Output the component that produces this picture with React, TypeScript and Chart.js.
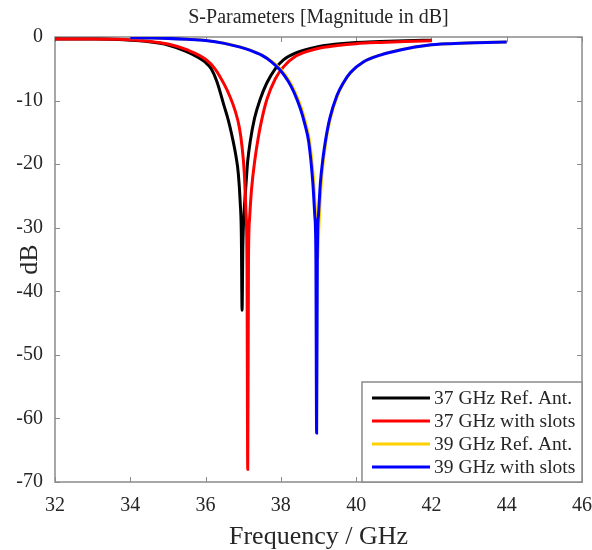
import React, { useEffect, useRef } from "react";
import { Chart, registerables } from "chart.js";

Chart.register(...registerables);

const FONT = "'Liberation Serif', 'DejaVu Serif', serif";

const chartTitle = "S-Parameters [Magnitude in dB]";
const xAxisTitle = "Frequency / GHz";
const yAxisTitle = "dB";
const seriesLabels = [
  "37 GHz Ref. Ant.",
  "37 GHz with slots",
  "39 GHz Ref. Ant.",
  "39 GHz with slots",
];
const seriesColors = ["#000000", "#ff0000", "#ffd000", "#0000ff"];

// 37 GHz reference antenna
const freq37Ref = [
  32.0, 33.0, 33.7, 34.5, 35.0, 35.5, 36.0, 36.15, 36.3, 36.5, 36.6, 36.7, 36.8,
  36.87, 36.92, 36.95, 36.97, 36.99, 37.02, 37.07, 37.12, 37.19, 37.3, 37.45,
  37.63, 37.85, 38.07, 38.4, 38.96, 39.5, 40.0, 40.64, 41.3, 42.0,
];
const db37Ref = [
  -0.3, -0.32, -0.4, -0.75, -1.25, -2.3, -4.0, -5.0, -7.0, -11.0, -13.0, -15.5,
  -18.5, -21.5, -26.0, -31.0, -43.0, -33.0, -28.0, -23.5, -19.5, -16.3, -12.8,
  -9.8, -7.2, -5.0, -3.6, -2.5, -1.55, -1.1, -0.85, -0.7, -0.58, -0.5,
];

// 37 GHz with slots
const freq37Slots = [
  32.0, 33.0, 33.7, 34.5, 35.0, 35.5, 36.0, 36.25, 36.5, 36.65, 36.78, 36.9,
  36.97, 37.03, 37.07, 37.1, 37.12, 37.14, 37.17, 37.22, 37.31, 37.4, 37.5,
  37.63, 37.85, 38.07, 38.4, 38.96, 39.5, 40.0, 40.64, 41.3, 42.0,
];
const db37Slots = [
  -0.3, -0.3, -0.36, -0.68, -1.1, -2.0, -3.5, -5.0, -7.5, -9.4, -11.5, -14.3,
  -17.3, -21.5, -27.2, -35.0, -68.0, -35.0, -28.5, -24.0, -19.3, -15.8, -12.8,
  -9.8, -6.6, -4.7, -3.0, -1.85, -1.35, -1.05, -0.85, -0.7, -0.6,
];

// 39 GHz reference antenna
const freq39Ref = [
  34.0, 34.5, 35.0, 35.5, 36.0, 36.5, 36.92, 37.19, 37.5, 37.75, 38.0, 38.22,
  38.37, 38.54, 38.66, 38.76, 38.87, 38.92, 38.95, 38.975, 39.0, 39.03, 39.08,
  39.2, 39.32, 39.51, 39.67, 39.87, 40.22, 40.66, 41.22, 41.92, 42.5, 43.2, 44.0,
];
const db39Ref = [
  -0.1, -0.15, -0.22, -0.34, -0.53, -0.97, -1.55, -2.05, -2.85, -3.8, -5.1,
  -6.9, -8.6, -11.1, -13.6, -16.3, -22.5, -27.5, -31.5, -35.0, -31.5, -27.5,
  -22.5, -16.3, -12.7, -9.1, -7.2, -5.5, -3.85, -2.8, -1.95, -1.28, -1.03,
  -0.88, -0.78,
];

// 39 GHz with slots
const freq39Slots = [
  34.0, 34.5, 35.0, 35.5, 36.0, 36.5, 36.92, 37.19, 37.5, 37.75, 37.98, 38.2,
  38.35, 38.52, 38.64, 38.74, 38.85, 38.9, 38.93, 38.95, 38.97, 39.0, 39.05,
  39.12, 39.18, 39.3, 39.49, 39.65, 39.85, 40.2, 40.64, 41.2, 41.9, 42.5, 43.2,
  44.0,
];
const db39Slots = [
  -0.1, -0.15, -0.22, -0.35, -0.55, -1.0, -1.6, -2.1, -2.9, -3.9, -5.2, -7.0,
  -8.7, -11.3, -13.8, -16.5, -23.0, -28.0, -34.0, -62.3, -34.0, -28.0, -23.0,
  -19.0, -16.5, -12.8, -9.2, -7.3, -5.6, -3.9, -2.85, -2.0, -1.3, -1.05, -0.9,
  -0.8,
];

const xMin = 32;
const xMax = 46;
const xStep = 2;
const yMin = -70;
const yMax = 0;
const yStep = 10;

const seriesFreqs = [freq37Ref, freq37Slots, freq39Ref, freq39Slots];
const seriesValues = [db37Ref, db37Slots, db39Ref, db39Slots];
const drawOrder = [3, 2, 1, 0];

const FRAME_COLOR = "#8a8a8a";
const TEXT_COLOR = "#262626";

const framePlugin = {
  id: "frameTicks",
  beforeDatasetsDraw(chart: any) {
    const { ctx, chartArea, scales } = chart;
    const { left, right, top, bottom } = chartArea;
    const tl = 5;
    ctx.save();
    ctx.strokeStyle = FRAME_COLOR;
    ctx.lineWidth = 1.5;
    ctx.strokeRect(left, top, right - left, bottom - top);
    ctx.lineWidth = 1;
    ctx.beginPath();
    scales.x.ticks.forEach((t: any) => {
      const px = Math.round(scales.x.getPixelForValue(t.value)) + 0.5;
      ctx.moveTo(px, bottom);
      ctx.lineTo(px, bottom - tl);
      ctx.moveTo(px, top);
      ctx.lineTo(px, top + tl);
    });
    scales.y.ticks.forEach((t: any) => {
      const py = Math.round(scales.y.getPixelForValue(t.value)) + 0.5;
      ctx.moveTo(left, py);
      ctx.lineTo(left + tl, py);
      ctx.moveTo(right, py);
      ctx.lineTo(right - tl, py);
    });
    ctx.stroke();
    ctx.restore();
  },
};

const legendPlugin = {
  id: "boxLegend",
  afterDraw(chart: any) {
    const { ctx, chartArea } = chart;
    const w = 220;
    const h = 100;
    const x0 = chartArea.right - w;
    const y0 = chartArea.bottom - h;
    ctx.save();
    ctx.fillStyle = "#ffffff";
    ctx.fillRect(x0, y0, w, h);
    ctx.strokeStyle = FRAME_COLOR;
    ctx.lineWidth = 1.5;
    ctx.strokeRect(x0, y0, w, h);
    ctx.font = `19.5px ${FONT}`;
    ctx.textBaseline = "middle";
    ctx.textAlign = "left";
    chart.data.datasets.forEach((ds: any, i: number) => {
      const yy = y0 + 16 + i * 23;
      ctx.strokeStyle = ds.borderColor;
      ctx.lineWidth = 3;
      ctx.beginPath();
      ctx.moveTo(x0 + 10, yy);
      ctx.lineTo(x0 + 68, yy);
      ctx.stroke();
      ctx.fillStyle = TEXT_COLOR;
      ctx.fillText(ds.label, x0 + 72, yy + 1);
    });
    ctx.restore();
  },
};

export default function App() {
  const canvasRef = useRef<HTMLCanvasElement | null>(null);

  useEffect(() => {
    if (!canvasRef.current) return;
    const datasets = seriesLabels.map((label, i) => ({
      label,
      data: seriesFreqs[i].map((f, j) => ({ x: f, y: seriesValues[i][j] })),
      borderColor: seriesColors[i],
      backgroundColor: seriesColors[i],
      borderWidth: 3,
      pointRadius: 0,
      cubicInterpolationMode: "monotone" as const,
      fill: false,
      order: drawOrder[i],
    }));

    const chart = new Chart(canvasRef.current, {
      type: "line",
      data: { datasets },
      options: {
        animation: false,
        responsive: false,
        devicePixelRatio: 1,
        layout: { padding: { left: 0, right: 0, top: 0, bottom: 0 } },
        plugins: {
          legend: { display: false },
          tooltip: { enabled: false },
          title: {
            display: true,
            text: chartTitle,
            fullSize: false,
            color: TEXT_COLOR,
            font: { family: FONT, size: 20, weight: "normal" as any },
            padding: { top: 6, bottom: 7 },
          },
        },
        scales: {
          x: {
            type: "linear",
            min: xMin,
            max: xMax,
            grid: { display: false },
            border: { display: false },
            ticks: {
              stepSize: xStep,
              color: TEXT_COLOR,
              font: { family: FONT, size: 20 },
              padding: 4,
              maxRotation: 0,
            },
            title: {
              display: true,
              text: xAxisTitle,
              color: TEXT_COLOR,
              font: { family: FONT, size: 26, lineHeight: 1 },
              padding: { top: 0, bottom: 0 },
            },
            afterFit: (s: any) => {
              s.height = 68;
              s.paddingRight = 10;
              s.paddingLeft = 0;
            },
          },
          y: {
            type: "linear",
            min: yMin,
            max: yMax,
            grid: { display: false },
            border: { display: false },
            ticks: {
              stepSize: yStep,
              color: TEXT_COLOR,
              font: { family: FONT, size: 20 },
              padding: 4,
            },
            title: {
              display: true,
              text: yAxisTitle,
              color: TEXT_COLOR,
              font: { family: FONT, size: 26, lineHeight: 1 },
              padding: { top: 17, bottom: 0 },
            },
            afterFit: (s: any) => {
              s.width = 55;
            },
          },
        },
      },
      plugins: [framePlugin, legendPlugin],
    });
    return () => chart.destroy();
  }, []);

  return (
    <div
      style={{
        position: "fixed",
        left: 0,
        top: 0,
        width: 592,
        height: 550,
        background: "#ffffff",
      }}
    >
      <canvas
        ref={canvasRef}
        width={592}
        height={550}
        style={{ display: "block", width: 592, height: 550 }}
      />
    </div>
  );
}
